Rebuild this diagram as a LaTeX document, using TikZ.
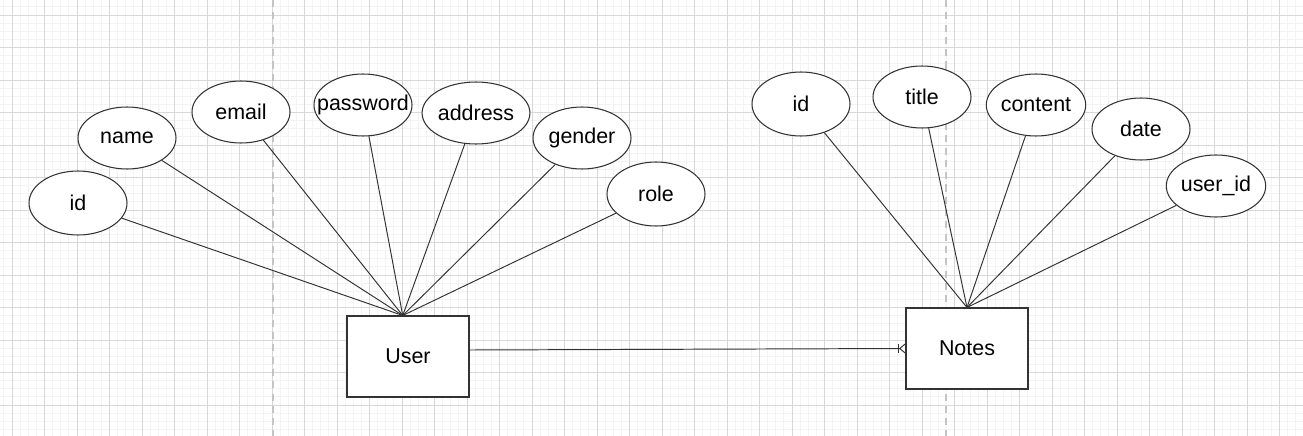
\documentclass[tikz,border=0pt]{standalone}
\usepackage{fontspec}
\setmainfont{Liberation Sans}
\usepackage{tikz}
\usetikzlibrary{arrows.meta,positioning,shapes.geometric}
\definecolor{minorgray}{HTML}{F3F3F3}
\definecolor{majorgray}{HTML}{D8D8D8}
\definecolor{pagegray}{HTML}{C4C4C4}
\definecolor{inkgray}{HTML}{333333}
\tikzset{
  attr/.style={
    ellipse,
    draw=inkgray,
    fill=white,
    line width=0.6pt,
    inner sep=0pt,
    minimum width=1.96cm,
    minimum height=1.24cm,
    font=\fontsize{12.2}{14}\selectfont
  },
  entity/.style={
    rectangle,
    draw=inkgray,
    fill=white,
    line width=0.6pt,
    minimum width=2.44cm,
    minimum height=1.62cm,
    font=\fontsize{12.2}{14}\selectfont
  },
  link/.style={draw=inkgray, line width=0.55pt},
  manylink/.style={link, -{Bar[width=5pt,sep=0pt] Straight Barb[reversed,length=3pt,width=5pt]}},
  minorline/.style={draw=minorgray, line width=0.5pt},
  majorline/.style={draw=majorgray, line width=0.5pt},
  pagebreak/.style={draw=pagegray, line width=0.8pt, dash pattern=on 4pt off 3pt}
}
\begin{document}
\begin{tikzpicture}[x=0.02cm, y=-0.02cm]
  \useasboundingbox (0,0) rectangle (1303,436);
  \fill[white] (0,0) rectangle (1303,436);

  % grid
  \foreach \k in {0,...,159}
    \draw[minorline] ({3.875+8.125*\k},0) -- ++(0,436);
  \foreach \k in {0,...,52}
    \draw[minorline] (0,{6.875+8.125*\k}) -- ++(1303,0);
  \foreach \k in {0,...,39}
    \draw[majorline] ({12+32.5*\k},0) -- ++(0,436);
  \foreach \k in {0,...,12}
    \draw[majorline] (0,{15+32.5*\k}) -- ++(1303,0);
  \draw[pagebreak] (273,0) -- (273,436);
  \draw[pagebreak] (946,0) -- (946,436);

  % entities
  \node[entity] (user) at (408,356.5) {User};
  \node[entity] (notes) at (967,348.5) {Notes};

  % user attributes
  \node[attr, minimum height=1.28cm] (uid) at (78,203) {id};
  \node[attr] (uname) at (127,138) {name};
  \node[attr] (uemail) at (241,112) {email};
  \node[attr] (upass) at (363,105) {\makebox[1.2cm]{password}};
  \node[attr] (uaddr) at (476,113) {address};
  \node[attr] (ugender) at (582,138) {gender};
  \node[attr, minimum height=1.28cm] (urole) at (656,194) {role};

  % notes attributes
  \node[attr, minimum height=1.28cm] (nid) at (801,104) {id};
  \node[attr] (ntitle) at (922,97) {title};
  \node[attr] (ncontent) at (1036,105) {content};
  \node[attr] (ndate) at (1141,129) {date};
  \node[attr] (nuserid) at (1216,186) {user\_id};

  \foreach \a in {uid,uname,uemail,upass,uaddr,ugender,urole}
    \draw[link] (\a) -- ([xshift=-3]user.north);
  \foreach \a in {nid,ntitle,ncontent,ndate,nuserid}
    \draw[link] (\a) -- (notes.north);

  \draw[manylink] ([yshift=0.13cm]user.east) -- (notes.west);
\end{tikzpicture}
\end{document}
